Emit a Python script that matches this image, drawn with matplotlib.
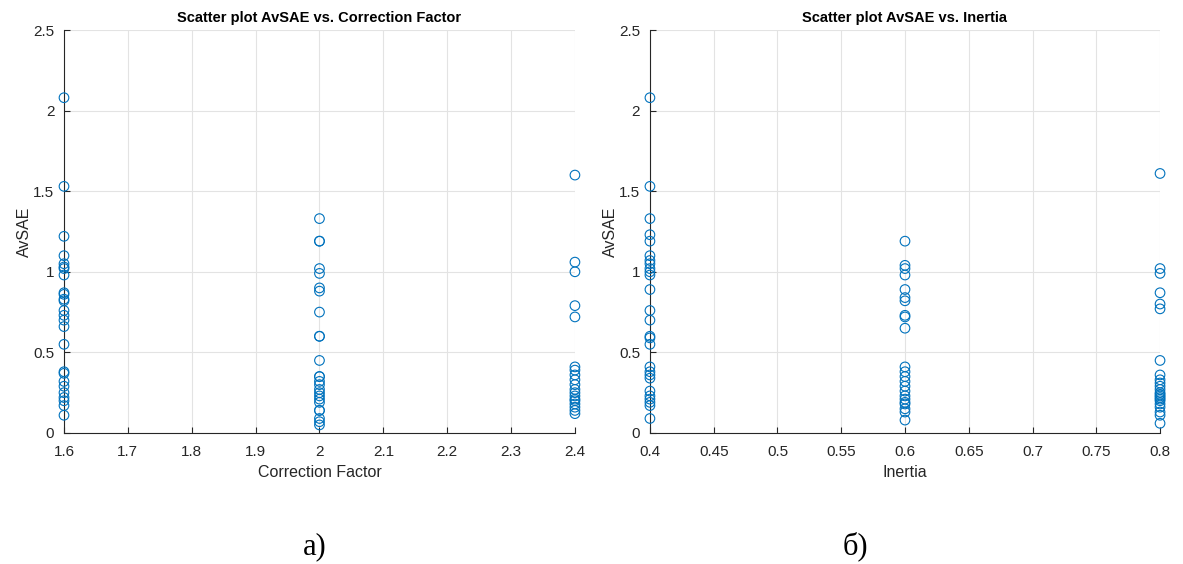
import numpy as np
import matplotlib
matplotlib.use('Agg')
import matplotlib.pyplot as plt
from matplotlib.ticker import FuncFormatter

# AvSAE values for each level of correction factor
cf_levels = [1.6, 2.0, 2.4]
avsae_cf_16 = [2.08, 1.53, 1.22, 1.10, 1.05, 1.03, 1.02, 0.98, 0.87, 0.86, 0.83, 0.82,
               0.76, 0.73, 0.70, 0.66, 0.55, 0.38, 0.37, 0.32, 0.29, 0.25, 0.22, 0.20,
               0.17, 0.11]
avsae_cf_20 = [1.33, 1.19, 1.19, 1.02, 0.99, 0.90, 0.88, 0.75, 0.60, 0.60, 0.45, 0.35,
               0.35, 0.32, 0.30, 0.27, 0.25, 0.23, 0.21, 0.19, 0.14, 0.14, 0.09, 0.07,
               0.05]
avsae_cf_24 = [1.60, 1.06, 1.00, 0.79, 0.72, 0.41, 0.39, 0.36, 0.33, 0.30, 0.27, 0.25,
               0.23, 0.21, 0.20, 0.18, 0.16, 0.14, 0.12]

# AvSAE values for each level of inertia
inertia_levels = [0.4, 0.6, 0.8]
avsae_in_04 = [2.08, 1.53, 1.33, 1.23, 1.19, 1.10, 1.07, 1.05, 1.02, 1.00, 0.98, 0.89,
               0.76, 0.70, 0.60, 0.59, 0.55, 0.41, 0.38, 0.36, 0.34, 0.26, 0.23, 0.21,
               0.19, 0.17, 0.09]
avsae_in_06 = [1.19, 1.04, 1.02, 0.98, 0.89, 0.84, 0.82, 0.73, 0.72, 0.65, 0.41, 0.38,
               0.35, 0.32, 0.29, 0.26, 0.23, 0.21, 0.19, 0.18, 0.15, 0.13, 0.08]
avsae_in_08 = [1.61, 1.02, 0.99, 0.87, 0.80, 0.77, 0.45, 0.36, 0.33, 0.31, 0.29, 0.27,
               0.25, 0.24, 0.23, 0.22, 0.21, 0.20, 0.18, 0.16, 0.13, 0.11, 0.06]

cf_x = np.repeat(cf_levels, [len(avsae_cf_16), len(avsae_cf_20), len(avsae_cf_24)])
cf_y = np.concatenate([avsae_cf_16, avsae_cf_20, avsae_cf_24])
in_x = np.repeat(inertia_levels, [len(avsae_in_04), len(avsae_in_06), len(avsae_in_08)])
in_y = np.concatenate([avsae_in_04, avsae_in_06, avsae_in_08])

plt.rcParams['font.family'] = ['Liberation Sans', 'DejaVu Sans']
blue = '#0072BD'
axc = '#262626'

fig = plt.figure(figsize=(11.83, 5.64), dpi=100)
ax1 = fig.add_axes([0.0541, 0.2323, 0.4319, 0.7145])
ax2 = fig.add_axes([0.5494, 0.2323, 0.4312, 0.7145])

fmt = FuncFormatter(lambda v, p: ('%g' % round(v, 4)))

def style(ax, xt, title, xlabel):
    ax.set_ylim(0, 2.5)
    ax.set_xlim(xt[0], xt[-1])
    ax.set_xticks(xt)
    ax.set_yticks(np.arange(0, 2.51, 0.5))
    ax.xaxis.set_major_formatter(fmt)
    ax.yaxis.set_major_formatter(fmt)
    ax.grid(True, color='#e3e3e3', linewidth=0.8)
    ax.set_axisbelow(True)
    for s in ['top', 'right']:
        ax.spines[s].set_visible(False)
    for s in ['left', 'bottom']:
        ax.spines[s].set_color(axc)
        ax.spines[s].set_linewidth(0.8)
    ax.tick_params(direction='in', length=4, width=0.8, colors=axc,
                   labelsize=11, labelcolor=axc)
    ax.tick_params(axis='x', pad=9)
    ax.tick_params(axis='y', pad=7)
    ax.set_title(title, fontsize=10.5, fontweight='bold', color='black', pad=6)
    ax.set_xlabel(xlabel, fontsize=11.5, color=axc, labelpad=4)
    ax.set_ylabel('AvSAE', fontsize=11.5, color=axc, labelpad=1)

ax1.scatter(cf_x, cf_y, s=48, facecolors='none', edgecolors=blue, linewidths=0.8,
            clip_on=False, zorder=3)
style(ax1, np.round(np.arange(1.6, 2.41, 0.1), 2),
      'Scatter plot AvSAE vs. Correction Factor', 'Correction Factor')

ax2.scatter(in_x, in_y, s=48, facecolors='none', edgecolors=blue, linewidths=0.8,
            clip_on=False, zorder=3)
style(ax2, np.round(np.arange(0.4, 0.81, 0.05), 2),
      'Scatter plot AvSAE vs. Inertia', 'Inertia')

fig.text(0.266, 0.005, 'а)', fontsize=22, family=['Liberation Serif', 'DejaVu Serif'],
         ha='center', va='bottom')
fig.text(0.723, 0.005, 'б)', fontsize=22, family=['Liberation Serif', 'DejaVu Serif'],
         ha='center', va='bottom')

fig.savefig('out.png', dpi=100)
